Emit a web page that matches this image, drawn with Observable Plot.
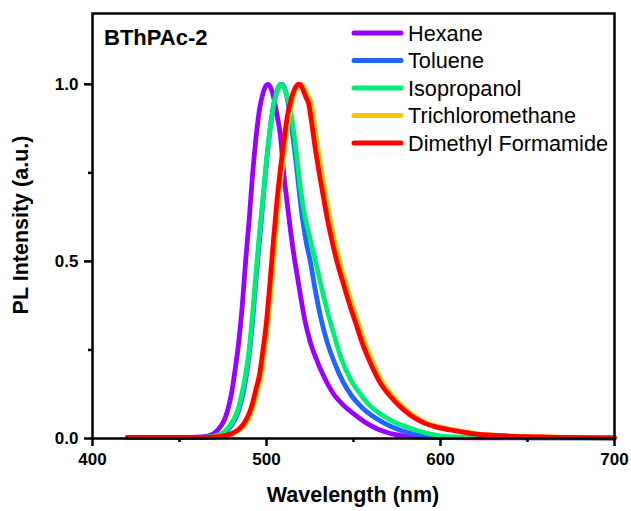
<!DOCTYPE html>
<html><head><meta charset="utf-8">
<script src="https://cdn.jsdelivr.net/npm/d3@7"></script>
<script src="https://cdn.jsdelivr.net/npm/@observablehq/plot@0.6"></script>
<style>
body{margin:0;background:#fff;}
#chart svg{font-family:"Liberation Sans",Arial,sans-serif;}
</style></head><body><div id="chart"></div>
<script>
const seriesNames = ["Hexane","Toluene","Isopropanol","Trichloromethane","Dimethyl Formamide"];
const seriesColors = ["#9900FF","#1E64FF","#00EE77","#FFC400","#FF0000"];
const title = "BThPAc-2";
const xLabel = "Wavelength (nm)";
const yLabel = "PL Intensity (a.u.)";
const xTicks = [400,500,600,700];
const xMinor = [450,550,650];
const yTicks = [0,0.5,1.0];
const yMinor = [0.25,0.75];

const hexane = [[420,0.003],[450,0.003],[460,0.004],[466,0.007],[470,0.015],[473,0.03],[476,0.055],[478,0.085],[480,0.13],[482,0.195],[484,0.27],[486,0.37],[488,0.5],[490,0.615],[492,0.745],[494,0.85],[496,0.93],[498,0.975],[500,0.998],[501,1.0],[502,0.995],[504,0.965],[506,0.915],[508,0.855],[510,0.745],[512,0.66],[514,0.58],[516,0.51],[518,0.45],[520,0.39],[522,0.335],[525,0.275],[529,0.22],[533,0.175],[538,0.13],[544,0.095],[550,0.07],[556,0.048],[562,0.031],[568,0.019],[575,0.01],[582,0.005],[590,0.003],[620,0.002],[700,0.002]];
const toluene = [[420,0.003],[464,0.003],[470,0.006],[474,0.012],[478,0.026],[481,0.045],[484,0.078],[486,0.115],[488,0.165],[490,0.235],[492,0.33],[494,0.45],[496,0.56],[498,0.67],[500,0.78],[502,0.87],[504,0.94],[506,0.98],[508,1.0],[509,1.0],[511,0.98],[513,0.93],[515,0.86],[517,0.78],[519,0.69],[521,0.61],[523,0.55],[525,0.505],[528,0.42],[531,0.345],[535,0.27],[539,0.215],[544,0.16],[549,0.12],[555,0.087],[562,0.06],[569,0.04],[577,0.023],[585,0.012],[594,0.005],[605,0.003],[700,0.002]];
const isopropanol = [[420,0.003],[462,0.003],[468,0.005],[472,0.009],[476,0.02],[479,0.037],[482,0.062],[484,0.088],[486,0.13],[488,0.18],[490,0.25],[492,0.35],[494,0.47],[496,0.58],[498,0.68],[500,0.785],[502,0.87],[504,0.94],[506,0.98],[508,1.0],[510,0.99],[512,0.965],[514,0.92],[516,0.855],[518,0.77],[520,0.69],[522,0.63],[525,0.565],[528,0.505],[531,0.44],[535,0.36],[539,0.29],[543,0.225],[548,0.17],[554,0.125],[560,0.09],[566,0.068],[572,0.05],[579,0.035],[587,0.022],[595,0.012],[605,0.005],[620,0.003],[700,0.002]];
const trichloromethane = [[420,0.003],[466,0.003],[472,0.005],[477,0.008],[481,0.014],[485,0.026],[488,0.042],[491,0.07],[493,0.1],[495,0.14],[497,0.18],[499,0.25],[501,0.33],[503,0.44],[505,0.56],[507,0.67],[509,0.76],[511,0.84],[513,0.91],[515,0.955],[517,0.985],[519,1.0],[520,1.0],[522,0.985],[524.5,0.96],[525.5,0.95],[527.5,0.89],[529.5,0.82],[532.5,0.73],[536.5,0.62],[539.5,0.55],[542.5,0.49],[545.5,0.44],[548.5,0.39],[552.5,0.33],[556.5,0.27],[561.5,0.21],[566.5,0.16],[572.5,0.12],[578.5,0.089],[584.5,0.065],[591.5,0.045],[600,0.032],[610,0.022],[620,0.014],[629,0.01],[640,0.007],[652,0.005],[672,0.003],[700,0.002]];
const dimethylFormamide = [[420,0.003],[466,0.003],[472,0.005],[476,0.008],[480,0.014],[484,0.026],[487,0.042],[490,0.07],[492,0.1],[494,0.14],[496,0.18],[498,0.25],[500,0.33],[502,0.44],[504,0.56],[506,0.67],[508,0.76],[510,0.84],[512,0.91],[514,0.955],[516,0.985],[518,1.0],[519,1.0],[521,0.985],[523,0.96],[524,0.95],[526,0.89],[528,0.82],[531,0.73],[535,0.62],[538,0.55],[541,0.49],[544,0.44],[547,0.39],[551,0.33],[555,0.27],[560,0.21],[565,0.16],[571,0.12],[577,0.089],[583,0.065],[590,0.045],[598,0.032],[608,0.022],[618,0.014],[627,0.01],[638,0.007],[650,0.005],[670,0.003],[700,0.002]];

const allSeries = [hexane, toluene, isopropanol, trichloromethane, dimethylFormamide];
const data = [];
allSeries.forEach((arr, i) => arr.forEach(([w, v]) => data.push({series: seriesNames[i], wavelength: w, intensity: v})));

const font = "'Liberation Sans', Arial, sans-serif";
const chart = Plot.plot({
  width: 631, height: 511,
  marginLeft: 92, marginRight: 17, marginTop: 13, marginBottom: 73,
  style: {fontFamily: font, background: "white", color: "black"},
  x: {domain: [400, 700]},
  y: {domain: [0, 1.2]},
  color: {domain: seriesNames, range: seriesColors},
  marks: [
    Plot.lineY(data, {x: "wavelength", y: "intensity", z: "series", stroke: "series", strokeWidth: 4.8, curve: "monotone-x", strokeLinejoin: "round"}),
    Plot.frame({stroke: "black", strokeWidth: 2.5}),
    Plot.axisX({ticks: xTicks, tickSize: 8, tickPadding: 6, tickFormat: d => String(d), fontSize: 17, fontWeight: "bold", label: null, strokeWidth: 2.5}),
    Plot.axisX({ticks: xMinor, tickSize: 4, tickFormat: () => "", label: null, strokeWidth: 2.5}),
    Plot.axisY({ticks: yTicks, tickSize: 8, tickPadding: 6, tickFormat: d3.format(".1f"), fontSize: 17, fontWeight: "bold", label: null, strokeWidth: 2.5}),
    Plot.axisY({ticks: yMinor, tickSize: 4, tickFormat: () => "", label: null, strokeWidth: 2.5})
  ]
});
document.getElementById("chart").appendChild(chart);

const svg = d3.select(chart);
svg.append("text").attr("x", 104).attr("y", 45).attr("text-anchor", "start").attr("font-size", 22).attr("font-weight", "bold").attr("fill", "black").text(title);
svg.append("text").attr("x", 353).attr("y", 502).attr("text-anchor", "middle").attr("font-size", 21.5).attr("font-weight", "bold").attr("fill", "black").text(xLabel);
svg.append("text").attr("transform", "translate(28,225) rotate(-90)").attr("text-anchor", "middle").attr("font-size", 21.5).attr("font-weight", "bold").attr("fill", "black").text(yLabel);
const lg = svg.append("g");
seriesNames.forEach((name, i) => {
  const yy = 33 + i * 27.5;
  lg.append("line").attr("x1", 354).attr("x2", 401).attr("y1", yy).attr("y2", yy).attr("stroke", seriesColors[i]).attr("stroke-width", 5).attr("stroke-linecap", "round");
  lg.append("text").attr("x", 408).attr("y", yy + 7.5).attr("text-anchor", "start").attr("font-size", 21.7).attr("fill", "black").text(name);
});
</script></body></html>
